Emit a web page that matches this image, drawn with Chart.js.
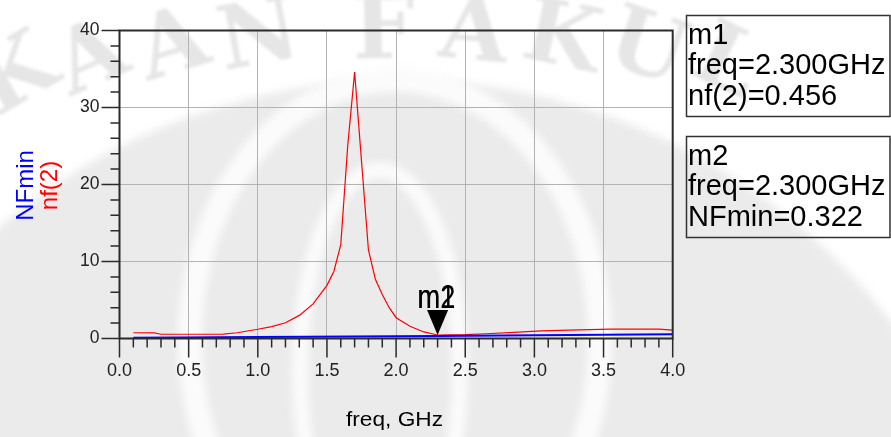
<!DOCTYPE html>
<html>
<head>
<meta charset="utf-8">
<script src="https://cdn.jsdelivr.net/npm/chart.js@4.4.1/dist/chart.umd.min.js"></script>
<style>
  html, body { margin: 0; padding: 0; background: #fff; }
  canvas { display: block; }
</style>
</head>
<body>
<canvas id="chart" width="891" height="437"></canvas>
<script>
'use strict';

// nf(2) sweep
const nfFreq = [0.1, 0.25, 0.3, 0.5, 0.75, 0.85, 1.0, 1.1, 1.2, 1.3, 1.4, 1.5, 1.55, 1.6, 1.65, 1.7,
  1.75, 1.8, 1.85, 1.9, 1.95, 2.0, 2.1, 2.2, 2.3, 2.5, 2.65, 2.85, 3.05, 3.25, 3.55, 3.9, 4.0];
const nf2 = [0.75, 0.72, 0.55, 0.55, 0.57, 0.75, 1.2, 1.55, 2.05, 3.0, 4.5, 6.9, 8.7, 12.2, 25.0, 34.6,
  23.0, 11.5, 7.7, 5.7, 4.0, 2.7, 1.6, 0.85, 0.456, 0.5, 0.62, 0.8, 1.0, 1.1, 1.22, 1.22, 1.08];

// NFmin sweep
const nfminFreq = [0.1, 1.0, 2.0, 2.3, 3.0, 4.0];
const nfmin = [0.1, 0.18, 0.28, 0.322, 0.42, 0.55];

const xTickValues = [0, 0.5, 1, 1.5, 2, 2.5, 3, 3.5, 4];
const yTickValues = [0, 10, 20, 30, 40];

// markers m1 (on nf(2)) and m2 (on NFmin)
const markerFreq = 2.3;
const m1Value = 0.456;
const m2Value = 0.322;

const FONT = '"Liberation Sans", Arial, sans-serif';

function drawWatermark(ctx, w, h) {
  ctx.save();
  ctx.fillStyle = '#ffffff';
  ctx.fillRect(0, 0, w, h);
  ctx.filter = 'blur(4px)';
  ctx.fillStyle = '#ebebeb';
  ctx.beginPath();
  ctx.arc(400, 700, 620, 0, Math.PI * 2);
  ctx.fill();
  ctx.strokeStyle = '#fbfbfb';
  ctx.lineWidth = 24;
  ctx.beginPath();
  ctx.ellipse(395, 340, 205, 260, 0, 0, Math.PI * 2);
  ctx.stroke();
  ctx.lineWidth = 16;
  ctx.beginPath();
  ctx.ellipse(380, 370, 80, 200, 0, 0, Math.PI * 2);
  ctx.stroke();

  // lettering round the seal
  ctx.filter = 'blur(1.5px)';
  ctx.fillStyle = '#e6e6e6';
  ctx.font = 'bold 88px "DejaVu Serif"';
  ctx.textAlign = 'center';
  ctx.textBaseline = 'middle';
  const letters = ['K', 'A', 'A', 'N', 'F', 'A', 'K', 'U', 'L'];
  const angles = [-38, -29.7, -21.4, -13.1, -1.5, 6.8, 15.1, 23.4, 31.7];
  letters.forEach((ch, i) => {
    const t = angles[i] * Math.PI / 180;
    ctx.save();
    ctx.translate(400 + 620 * Math.sin(t), 240 - 205 * Math.cos(t));
    ctx.rotate(t * 0.8);
    ctx.fillText(ch, 0, 0);
    ctx.restore();
  });
  ctx.restore();
}

const plotExtras = {
  id: 'plotExtras',
  beforeDraw(chart) {
    drawWatermark(chart.ctx, chart.width, chart.height);
  },
  afterDraw(chart) {
    const {ctx, chartArea: a, scales: {x, y}} = chart;
    ctx.save();

    // frame
    ctx.strokeStyle = '#2b2b2b';
    ctx.lineWidth = 2;
    ctx.strokeRect(a.left, a.top, a.right - a.left, a.bottom - a.top);

    // x ticks every 0.1, long every 0.5
    ctx.lineWidth = 1.5;
    ctx.beginPath();
    for (let i = 0; i <= 40; i++) {
      const px = x.getPixelForValue(i / 10);
      ctx.moveTo(px, a.bottom);
      ctx.lineTo(px, a.bottom + (i % 5 === 0 ? 19 : 9));
    }
    // y ticks every 2, long every 10
    for (let v = 0; v <= 40; v += 2) {
      const py = y.getPixelForValue(v);
      ctx.moveTo(a.left, py);
      ctx.lineTo(a.left - (v % 10 === 0 ? 18 : 9), py);
    }
    ctx.stroke();

    // marker triangle and labels
    const mx = x.getPixelForValue(markerFreq);
    const my = y.getPixelForValue(m1Value);
    ctx.fillStyle = '#000';
    ctx.beginPath();
    ctx.moveTo(mx, my);
    ctx.lineTo(mx - 10.5, my - 25);
    ctx.lineTo(mx + 10.5, my - 25);
    ctx.closePath();
    ctx.fill();
    ctx.save();
    ctx.translate(mx - 20, my - 27);
    ctx.scale(0.8, 1);
    ctx.font = '34px ' + FONT;
    ctx.textAlign = 'left';
    ctx.textBaseline = 'alphabetic';
    ctx.fillText('m1', 0, 0);
    ctx.fillText('m2', 0, 0);
    ctx.restore();

    // marker readouts
    const boxes = [
      {top: 15, lines: ['m1', 'freq=' + markerFreq.toFixed(3) + 'GHz', 'nf(2)=' + m1Value.toFixed(3)]},
      {top: 136, lines: ['m2', 'freq=' + markerFreq.toFixed(3) + 'GHz', 'NFmin=' + m2Value.toFixed(3)]}
    ];
    ctx.font = '29px ' + FONT;
    ctx.textAlign = 'left';
    ctx.textBaseline = 'alphabetic';
    boxes.forEach(b => {
      ctx.strokeStyle = '#333';
      ctx.lineWidth = 1.5;
      ctx.strokeRect(686.5, b.top + 0.5, 203.5, 101);
      ctx.fillStyle = '#000';
      b.lines.forEach((t, i) => ctx.fillText(t, 688, b.top + 28.5 + i * 30.5));
    });

    // axis titles
    ctx.save();
    ctx.translate(394.5, 426);
    ctx.scale(1.08, 1);
    ctx.font = '21px ' + FONT;
    ctx.textAlign = 'center';
    ctx.fillStyle = '#000';
    ctx.fillText('freq, GHz', 0, 0);
    ctx.restore();

    const midY = (a.top + a.bottom) / 2 + 1;
    ctx.font = '24px ' + FONT;
    ctx.textAlign = 'center';
    ctx.save();
    ctx.translate(33, midY);
    ctx.rotate(-Math.PI / 2);
    ctx.fillStyle = '#0000ff';
    ctx.fillText('NFmin', 0, 0);
    ctx.restore();
    ctx.save();
    ctx.translate(57, midY);
    ctx.rotate(-Math.PI / 2);
    ctx.fillStyle = '#ff0000';
    ctx.fillText('nf(2)', 0, 0);
    ctx.restore();

    ctx.restore();
  }
};

const canvas = document.querySelector('#chart');
const ctx = canvas.getContext('2d');

const config = {
  type: 'line',
  data: {
    datasets: [{
      label: 'NFmin',
      data: nfminFreq.map((f, i) => ({x: f, y: nfmin[i]})),
      borderColor: '#0000ff',
      borderWidth: 2,
      pointRadius: 0,
      tension: 0
    }, {
      label: 'nf(2)',
      data: nfFreq.map((f, i) => ({x: f, y: nf2[i]})),
      borderColor: '#ff0000',
      borderWidth: 1.2,
      pointRadius: 0,
      tension: 0
    }]
  },
  options: {
    responsive: false,
    animation: false,
    layout: {padding: {left: 0, right: 218.3, top: 16, bottom: 0}},
    plugins: {legend: {display: false}, tooltip: {enabled: false}},
    scales: {
      x: {
        type: 'linear',
        min: 0,
        max: 4,
        afterFit: s => { s.height = 98.5; },
        afterBuildTicks: s => { s.ticks = xTickValues.map(v => ({value: v})); },
        ticks: {
          callback: v => v.toFixed(1),
          color: '#222',
          font: {family: FONT, size: 18},
          padding: 22,
          maxRotation: 0
        },
        grid: {color: '#b3b3b3', lineWidth: 1, drawTicks: false},
        border: {display: false}
      },
      y: {
        min: 0,
        max: 40,
        afterFit: s => { s.width = 119.5; },
        afterBuildTicks: s => { s.ticks = yTickValues.map(v => ({value: v})); },
        ticks: {
          color: '#222',
          font: {family: FONT, size: 17.5},
          padding: 20
        },
        grid: {color: '#b3b3b3', lineWidth: 1, drawTicks: false},
        border: {display: false}
      }
    }
  },
  plugins: [plotExtras]
};

const chart = new Chart(ctx, config);
</script>
</body>
</html>
